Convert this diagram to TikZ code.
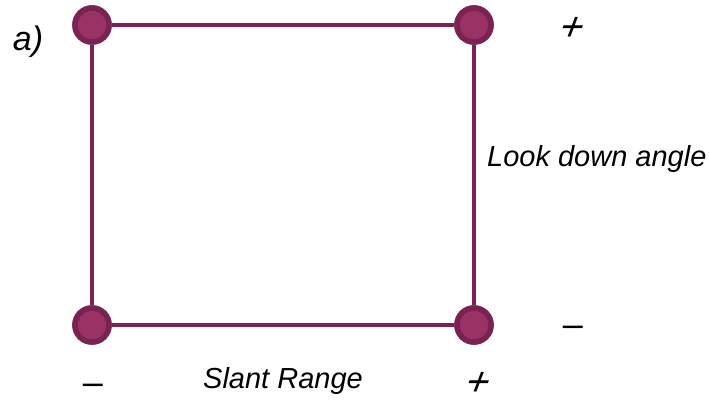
\documentclass[tikz,border=0pt]{standalone}
\usepackage{fontspec}
\setmainfont{Liberation Sans}
\definecolor{plumline}{HTML}{7A2352}
\definecolor{plumfill}{HTML}{993366}
\begin{document}
\begin{tikzpicture}[x=1pt, y=-1pt,
  vertex/.style={circle, draw=plumline, fill=plumfill, line width=5.5pt, minimum size=34pt, inner sep=0pt},
  lbl/.style={inner sep=0pt, font=\fontsize{29}{31}\selectfont\itshape},
  sign/.style={inner sep=0pt, font=\fontsize{36}{38}\selectfont},
  plus/.style={sign, xslant=0.38, font=\fontsize{40}{42}\selectfont}]
  \useasboundingbox (0,0) rectangle (709,402);
  \node[vertex] (tl) at (92, 25) {};
  \node[vertex] (tr) at (474, 25) {};
  \node[vertex] (bl) at (92, 325) {};
  \node[vertex] (br) at (474, 325) {};

  \draw[plumline, line width=4pt] (tl) -- (tr);
  \draw[plumline, line width=4pt] (bl) -- (br);
  \draw[plumline, line width=4pt] (tl) -- (bl);
  \draw[plumline, line width=4pt] (tr) -- (br);
  % redraw circles over the lines
  \node[vertex] at (tl) {};
  \node[vertex] at (tr) {};
  \node[vertex] at (bl) {};
  \node[vertex] at (br) {};

  \node[lbl, font=\fontsize{34}{36}\selectfont\itshape] (tag) at (28, 42) {a)};
  \node[lbl, anchor=west] (lda) at (487, 159) {Look down angle};
  \node[lbl] (sr) at (283, 381) {Slant Range};
  \node[plus] (ptop) at (573, 29) {+};
  \node[sign] (mright) at (573, 331) {\textendash};
  \node[sign] (mleft) at (93, 389) {\textendash};
  \node[plus] (pbot) at (479, 384) {+};
\end{tikzpicture}
\end{document}
